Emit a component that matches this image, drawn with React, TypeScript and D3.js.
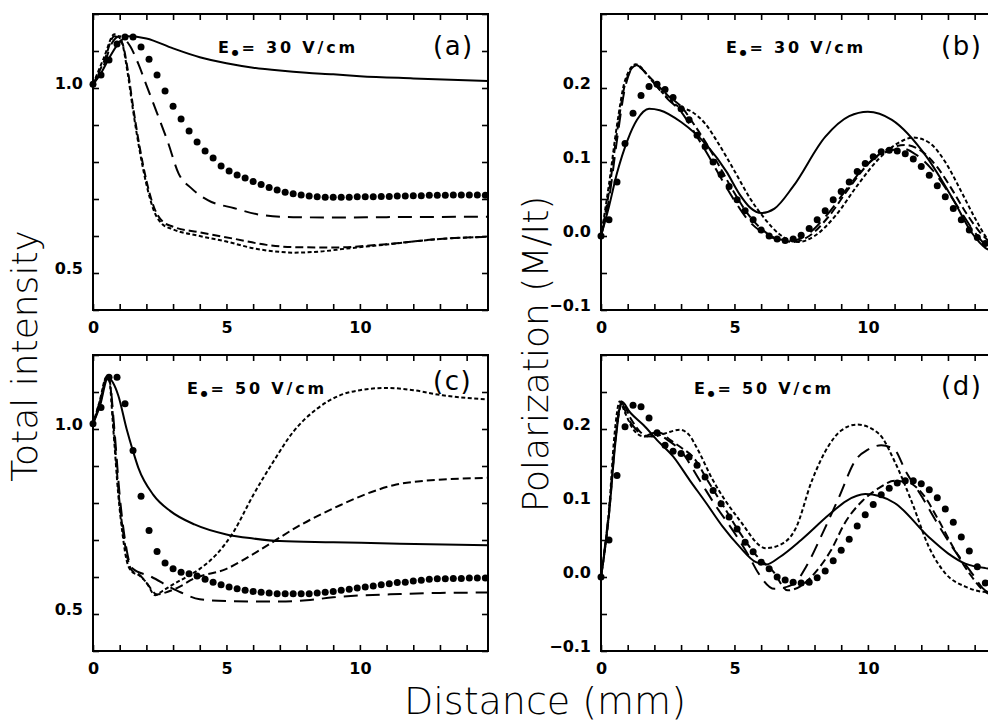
import React, { useEffect, useRef } from "react";
import * as d3 from "d3";

type Pt = [number, number];

// axis ticks
const distanceTicks = [0, 1, 2, 3, 4, 5, 6, 7, 8, 9, 10, 11, 12, 13, 14];
const distanceLabels = [0, 5, 10];
const intensityTicks = [0.4, 0.5, 0.6, 0.7, 0.8, 0.9, 1.0, 1.1, 1.2];
const intensityLabels = [0.5, 1.0];
const polarTicks = [-0.1, -0.05, 0, 0.05, 0.1, 0.15, 0.2, 0.25, 0.3];
const polarLabels = [-0.1, 0, 0.1, 0.2];

// measured points (filled circles), shared distances
const dotX = [
  0, 0.3, 0.6, 0.9, 1.2, 1.5, 1.8, 2.1, 2.4, 2.7, 3, 3.3, 3.6, 3.9, 4.2, 4.5, 4.8, 5.1, 5.4, 5.7,
  6, 6.3, 6.6, 6.9, 7.2, 7.5, 7.8, 8.1, 8.4, 8.7, 9, 9.3, 9.6, 9.9, 10.2, 10.5, 10.8, 11.1, 11.4,
  11.7, 12, 12.3, 12.6, 12.9, 13.2, 13.5, 13.8, 14.1, 14.4, 14.7,
];

// (a) total intensity, E0 = 30 V/cm
const aDots = [
  1.01, 1.035, 1.076, 1.119, 1.138, 1.138, 1.111, 1.078, 1.035, 0.992,
  0.951, 0.916, 0.884, 0.854, 0.83, 0.811, 0.789, 0.776, 0.765, 0.757,
  0.747, 0.739, 0.731, 0.724, 0.718, 0.714, 0.711, 0.708, 0.706, 0.705,
  0.705, 0.705, 0.705, 0.706, 0.706, 0.706, 0.707, 0.707, 0.708, 0.708,
  0.709, 0.709, 0.71, 0.71, 0.71, 0.711, 0.711, 0.711, 0.711, 0.71,
];
const aSolid: Pt[] = [
  [0, 1.01], [0.3, 1.04], [0.6, 1.08], [0.9, 1.115], [1.3, 1.14], [2.0, 1.134], [3.0, 1.107],
  [4.0, 1.083], [5.0, 1.067], [6.0, 1.055], [7.0, 1.047], [8.0, 1.041], [9.0, 1.037],
  [10.0, 1.032], [12.0, 1.026], [14.8, 1.019],
];
const aLong: Pt[] = [
  [0, 1.01], [0.4, 1.06], [0.7, 1.12], [1.0, 1.14], [1.4, 1.112], [1.7, 1.065], [2.0, 1.008],
  [2.4, 0.932], [2.8, 0.855], [3.2, 0.77], [3.7, 0.728], [4.3, 0.697], [5.3, 0.675],
  [6.3, 0.657], [7.5, 0.651], [9.0, 0.65], [11.0, 0.651], [14.8, 0.652],
];
const aMedium: Pt[] = [
  [0, 1.01], [0.4, 1.07], [0.8, 1.14], [1.1, 1.12], [1.3, 1.05], [1.5, 0.95], [1.75, 0.84],
  [2.0, 0.75], [2.3, 0.675], [2.6, 0.64], [3.0, 0.625], [4.0, 0.61], [5.25, 0.593],
  [6.5, 0.576], [7.5, 0.57], [9.0, 0.569], [11.0, 0.578], [13.0, 0.592], [14.8, 0.598],
];
const aShort: Pt[] = [
  [0, 1.01], [0.4, 1.08], [0.8, 1.145], [1.05, 1.13], [1.3, 1.04], [1.5, 0.94], [1.75, 0.83],
  [2.0, 0.74], [2.3, 0.665], [2.6, 0.632], [3.0, 0.618], [4.0, 0.6], [5.0, 0.585],
  [6.0, 0.567], [7.0, 0.557], [7.5, 0.555], [8.5, 0.558], [9.5, 0.566], [11.0, 0.577],
  [13.0, 0.592], [14.8, 0.598],
];

// (b) polarization, E0 = 30 V/cm
const bDots = [
  0, 0.022, 0.073, 0.125, 0.166, 0.19, 0.202, 0.205, 0.198, 0.187,
  0.172, 0.157, 0.136, 0.121, 0.1, 0.083, 0.067, 0.049, 0.034, 0.022,
  0.008, 0.0, -0.004, -0.006, -0.004, 0.001, 0.01, 0.022, 0.034, 0.049,
  0.06, 0.073, 0.087, 0.098, 0.107, 0.114, 0.116, 0.115, 0.111, 0.104,
  0.094, 0.082, 0.068, 0.053, 0.037, 0.022, 0.008, -0.002, -0.01, -0.016,
];
const bSolid: Pt[] = [
  [0, 0], [0.3, 0.04], [0.6, 0.085], [1.0, 0.13], [1.35, 0.157], [1.8, 0.172], [2.2, 0.17],
  [3.0, 0.154], [4.0, 0.121], [4.7, 0.087], [5.2, 0.056], [5.6, 0.038], [6.0, 0.031],
  [6.5, 0.037], [7.2, 0.067], [8.4, 0.134], [9.3, 0.162], [10.0, 0.168], [10.9, 0.157],
  [12.2, 0.107], [13.2, 0.049], [13.9, 0.004], [14.4, -0.016], [14.8, -0.022],
];
const bLong: Pt[] = [
  [0, 0], [0.3, 0.05], [0.6, 0.13], [0.9, 0.2], [1.3, 0.231], [1.9, 0.21], [2.5, 0.185],
  [3.0, 0.168], [3.5, 0.14], [4.0, 0.11], [4.5, 0.078], [5.0, 0.048], [5.5, 0.022],
  [6.0, 0.006], [6.6, -0.004], [7.2, -0.006], [7.8, 0.004], [8.5, 0.03], [9.3, 0.068],
  [10.0, 0.098], [10.8, 0.115], [11.3, 0.118], [11.8, 0.11], [12.4, 0.09], [13.0, 0.06],
  [13.5, 0.032], [14.0, 0.005], [14.5, -0.015], [14.8, -0.02],
];
const bMedium: Pt[] = [
  [0, 0], [0.3, 0.06], [0.6, 0.14], [0.9, 0.205], [1.3, 0.23], [1.9, 0.212], [2.5, 0.19],
  [3.0, 0.175], [3.5, 0.15], [4.0, 0.122], [4.5, 0.09], [5.0, 0.058], [5.5, 0.03],
  [6.0, 0.01], [6.6, -0.004], [7.2, -0.008], [7.8, 0.0], [8.5, 0.025], [9.3, 0.065],
  [10.0, 0.097], [10.8, 0.118], [11.4, 0.123], [12.0, 0.115], [12.6, 0.093], [13.2, 0.06],
  [13.7, 0.03], [14.2, 0.005], [14.8, -0.015],
];
const bShort: Pt[] = [
  [0, 0], [0.3, 0.07], [0.6, 0.15], [0.9, 0.21], [1.3, 0.232], [1.8, 0.215], [2.4, 0.19],
  [2.9, 0.175], [3.4, 0.168], [3.9, 0.152], [4.4, 0.125], [5.0, 0.088], [5.6, 0.05],
  [6.1, 0.025], [6.7, 0.002], [7.4, -0.008], [8.0, 0.0], [8.8, 0.028], [9.6, 0.068],
  [10.4, 0.104], [11.2, 0.127], [11.7, 0.133], [12.3, 0.126], [12.9, 0.1], [13.5, 0.06],
  [14.0, 0.025], [14.5, -0.005], [14.8, -0.015],
];

// (c) total intensity, E0 = 50 V/cm
const cDots = [
  1.014, 1.058, 1.14, 1.14, 1.068, 0.942, 0.818, 0.726, 0.669, 0.638,
  0.622, 0.613, 0.609, 0.603, 0.594, 0.586, 0.579, 0.573, 0.568, 0.564,
  0.561, 0.559, 0.557, 0.555, 0.555, 0.555, 0.555, 0.555, 0.557, 0.559,
  0.561, 0.564, 0.567, 0.57, 0.573, 0.576, 0.579, 0.582, 0.585, 0.586,
  0.589, 0.591, 0.594, 0.595, 0.595, 0.596, 0.596, 0.597, 0.597, 0.597,
];
const cSolid: Pt[] = [
  [0, 1.014], [0.25, 1.06], [0.57, 1.14], [0.75, 1.125], [0.95, 1.09], [1.26, 1.0],
  [1.5, 0.94], [1.7, 0.895], [2.26, 0.822], [2.9, 0.778], [3.8, 0.742], [5.0, 0.715],
  [6.0, 0.704], [7.0, 0.697], [9.0, 0.694], [11.5, 0.69], [14.8, 0.686],
];
const cLong: Pt[] = [
  [0, 1.014], [0.3, 1.08], [0.5, 1.14], [0.62, 1.13], [0.8, 1.0], [1.0, 0.82], [1.2, 0.7],
  [1.45, 0.625], [2.2, 0.6], [2.9, 0.572], [3.3, 0.558], [4.0, 0.54], [5.0, 0.535],
  [6.0, 0.534], [7.0, 0.534], [8.0, 0.537], [9.0, 0.545], [10.0, 0.55], [11.5, 0.554],
  [13.0, 0.557], [14.8, 0.558],
];
const cMedium: Pt[] = [
  [0, 1.014], [0.28, 1.08], [0.52, 1.14], [0.62, 1.13], [0.78, 1.0], [0.97, 0.82],
  [1.15, 0.71], [1.45, 0.618], [1.76, 0.605], [2.0, 0.585], [2.4, 0.553], [2.8, 0.56],
  [3.2, 0.572], [3.76, 0.595], [5.0, 0.622], [6.14, 0.668], [7.76, 0.74], [9.26, 0.794],
  [10.26, 0.825], [11.26, 0.848], [12.26, 0.859], [14.8, 0.868],
];
const cShort: Pt[] = [
  [0, 1.014], [0.25, 1.075], [0.5, 1.14], [0.6, 1.135], [0.76, 1.0], [0.95, 0.82],
  [1.1, 0.72], [1.26, 0.645], [1.45, 0.615], [1.76, 0.603], [2.0, 0.585], [2.33, 0.551],
  [2.6, 0.562], [3.0, 0.58], [3.5, 0.6], [4.0, 0.622], [4.6, 0.659], [5.25, 0.72],
  [6.0, 0.821], [6.75, 0.911], [7.5, 0.992], [8.4, 1.055], [9.25, 1.091], [10.0, 1.105],
  [11.0, 1.111], [12.0, 1.105], [13.1, 1.091], [14.8, 1.08],
];

// (d) polarization, E0 = 50 V/cm
const dDots = [
  0, 0.05, 0.137, 0.203, 0.232, 0.23, 0.215, 0.195, 0.178, 0.17,
  0.167, 0.162, 0.151, 0.135, 0.117, 0.099, 0.081, 0.065, 0.047, 0.034,
  0.02, 0.011, 0.0, -0.004, -0.007, -0.008, -0.007, -0.001, 0.008, 0.022,
  0.036, 0.051, 0.069, 0.084, 0.098, 0.111, 0.12, 0.127, 0.13, 0.13,
  0.126, 0.118, 0.107, 0.092, 0.074, 0.054, 0.035, 0.014, -0.008, -0.02,
];
const dSolid: Pt[] = [
  [0, 0], [0.3, 0.085], [0.55, 0.185], [0.77, 0.237], [1.1, 0.222], [1.6, 0.205],
  [2.1, 0.185], [2.7, 0.163], [3.32, 0.131], [3.94, 0.1], [4.56, 0.068], [5.19, 0.041],
  [5.81, 0.02], [6.2, 0.017], [6.7, 0.027], [7.5, 0.05], [8.54, 0.084], [9.2, 0.103],
  [9.9, 0.112], [11.0, 0.1], [12.28, 0.054], [13.0, 0.032], [13.65, 0.018], [14.4, 0.012],
  [14.8, 0.011],
];
const dLong: Pt[] = [
  [0, 0], [0.3, 0.09], [0.55, 0.19], [0.75, 0.237], [1.0, 0.215], [1.3, 0.2], [1.6, 0.19],
  [2.0, 0.195], [2.5, 0.185], [3.0, 0.17], [3.69, 0.131], [4.32, 0.095], [4.94, 0.063],
  [5.56, 0.027], [5.9, 0.005], [6.5, -0.016], [7.2, -0.01], [7.7, 0.015], [8.3, 0.059],
  [8.92, 0.108], [9.54, 0.158], [10.0, 0.172], [10.5, 0.178], [11.0, 0.172], [11.4, 0.144],
  [12.03, 0.108], [12.53, 0.077], [13.15, 0.041], [13.9, 0.005], [14.3, -0.015],
  [14.8, -0.025],
];
const dMedium: Pt[] = [
  [0, 0], [0.3, 0.085], [0.55, 0.19], [0.8, 0.235], [1.1, 0.215], [1.5, 0.195], [1.8, 0.19],
  [2.2, 0.195], [2.6, 0.185], [3.0, 0.175], [3.5, 0.16], [4.0, 0.13], [4.6, 0.095],
  [5.2, 0.06], [5.8, 0.03], [6.44, 0.008], [7.0, -0.018], [7.5, -0.012], [8.0, 0.005],
  [8.6, 0.035], [9.17, 0.075], [9.8, 0.103], [10.41, 0.12], [11.0, 0.13], [11.5, 0.128],
  [12.1, 0.11], [12.6, 0.08], [13.2, 0.04], [13.8, 0.005], [14.4, -0.02], [14.8, -0.025],
];
const dShort: Pt[] = [
  [0, 0], [0.3, 0.09], [0.5, 0.19], [0.7, 0.237], [0.9, 0.222], [1.2, 0.2], [1.6, 0.19],
  [2.0, 0.19], [2.4, 0.194], [2.95, 0.199], [3.3, 0.192], [3.57, 0.176], [4.19, 0.131],
  [5.19, 0.077], [6.18, 0.039], [6.68, 0.043], [7.3, 0.066], [7.9, 0.13], [8.54, 0.178],
  [9.0, 0.198], [9.6, 0.206], [10.4, 0.194], [11.03, 0.154], [11.66, 0.1], [12.28, 0.041],
  [12.9, 0.005], [13.65, -0.013], [14.4, -0.02], [14.8, -0.02],
];

const panelLetters = ["(a)", "(b)", "(c)", "(d)"];
const fieldValues = ["30", "30", "50", "50"];

/** Style variables. */
const W = 395;
const H = 296;
const dashLong = "14,8";
const dashMedium = "8,4";
const dashShort = "4,2.5";
const tickFont = "DejaVu Sans, Verdana, sans-serif";

export default function App() {
  const ref = useRef<SVGSVGElement | null>(null);

  useEffect(() => {
    const svg = d3.select(ref.current);
    svg.selectAll("*").remove();

    const panels = [
      { left: 93, top: 14, yDomain: [0.4, 1.2], yTicks: intensityTicks, yLabels: intensityLabels,
        dots: aDots, lines: [aSolid, aLong, aMedium, aShort], textX: 218, textY: 53, letterY: 46 },
      { left: 601, top: 14, yDomain: [-0.1, 0.3], yTicks: polarTicks, yLabels: polarLabels,
        dots: bDots, lines: [bSolid, bLong, bMedium, bShort], textX: 726, textY: 53, letterY: 46 },
      { left: 93, top: 355, yDomain: [0.4, 1.2], yTicks: intensityTicks, yLabels: intensityLabels,
        dots: cDots, lines: [cSolid, cLong, cMedium, cShort], textX: 187, textY: 394, letterY: 381 },
      { left: 601, top: 355, yDomain: [-0.1, 0.3], yTicks: polarTicks, yLabels: polarLabels,
        dots: dDots, lines: [dSolid, dLong, dMedium, dShort], textX: 694, textY: 394, letterY: 386 },
    ];
    const dashes = [null, dashLong, dashMedium, dashShort];

    panels.forEach((p, i) => {
      const g = svg.append("g").attr("transform", `translate(${p.left},${p.top})`);
      const x = d3.scaleLinear().domain([0, 14.8]).range([0, W]);
      const y = d3.scaleLinear().domain(p.yDomain).range([H, 0]);

      const line = d3
        .line<Pt>()
        .x((d) => x(d[0]))
        .y((d) => y(d[1]))
        .curve(d3.curveMonotoneX);

      // Draw the model curves
      p.lines.forEach((s, k) => {
        const path = g
          .append("path")
          .attr("d", line(s))
          .attr("fill", "none")
          .attr("stroke", "#000")
          .attr("stroke-width", 2);
        if (dashes[k]) path.attr("stroke-dasharray", dashes[k] as string);
      });

      // Measured points
      g.selectAll("circle.dot")
        .data(dotX.map((v, k) => [v, p.dots[k]] as Pt))
        .join("circle")
        .attr("class", "dot")
        .attr("cx", (d) => x(d[0]))
        .attr("cy", (d) => y(d[1]))
        .attr("r", 3.5)
        .attr("fill", "#000");

      const isLabel = (list: number[], v: number) => list.some((l) => Math.abs(l - v) < 1e-9);
      const fmtY = d3.format(".1f");

      const styleAxis = (sel: d3.Selection<SVGGElement, unknown, null, undefined>) => {
        sel.select(".domain").remove();
        sel.selectAll(".tick line").attr("stroke", "#000").attr("stroke-width", 1.6);
        sel
          .selectAll(".tick text")
          .attr("fill", "#000")
          .attr("font-family", tickFont)
          .attr("font-weight", "bold")
          .attr("font-size", 16);
      };

      // Bottom axis
      g.append("g")
        .attr("transform", `translate(0,${H})`)
        .call(
          d3
            .axisBottom(x)
            .tickValues(distanceTicks)
            .tickSize(-6)
            .tickPadding(12)
            .tickFormat((d) => (isLabel(distanceLabels, +d) ? String(d) : ""))
        )
        .call(styleAxis as any);

      // Top axis
      g.append("g")
        .call(d3.axisTop(x).tickValues(distanceTicks).tickSize(-6).tickFormat(() => ""))
        .call(styleAxis as any);

      // Left axis
      const left = g
        .append("g")
        .call(
          d3
            .axisLeft(y)
            .tickValues(p.yTicks)
            .tickSize(-6)
            .tickPadding(10)
            .tickFormat((d) => (isLabel(p.yLabels, +d) ? fmtY(+d) : ""))
        )
        .call(styleAxis as any);
      left.selectAll(".tick text").attr("dy", "0.05em");

      // Right axis
      g.append("g")
        .attr("transform", `translate(${W},0)`)
        .call(d3.axisRight(y).tickValues(p.yTicks).tickSize(-6).tickFormat(() => ""))
        .call(styleAxis as any);

      // Frame
      g.append("rect")
        .attr("width", W)
        .attr("height", H)
        .attr("fill", "none")
        .attr("stroke", "#000")
        .attr("stroke-width", 2);

      // Field annotation  E0 = .. V/cm
      const t = svg
        .append("text")
        .attr("x", p.textX)
        .attr("y", p.textY)
        .attr("font-family", tickFont)
        .attr("font-weight", "bold")
        .attr("font-size", 16)
        .attr("letter-spacing", 2.8)
        .style("white-space", "pre");
      t.append("tspan").text("E");
      t.append("tspan").attr("font-size", 8).attr("dy", 2).text("\u25CF");
      t.append("tspan").attr("dy", -2).text(`= ${fieldValues[i]} V/cm`);

      // Panel letter
      svg
        .append("text")
        .attr("x", p.left + 340)
        .attr("y", p.letterY)
        .attr("dominant-baseline", "central")
        .attr("font-family", tickFont)
        .attr("font-size", 26)
        .attr("letter-spacing", 1.5)
        .text(panelLetters[i]);
    });

    // Axis titles
    const title = (sel: d3.Selection<SVGTextElement, unknown, null, undefined>, size: number) =>
      sel
        .attr("font-family", "DejaVu Sans, sans-serif")
        .attr("font-weight", 200)
        .attr("font-size", size)
        .attr("text-anchor", "middle")
        .attr("fill", "#000");

    title(svg.append("text"), 38).attr("x", 545).attr("y", 714).text("Distance (mm)");
    title(svg.append("text"), 36)
      .attr("transform", "translate(37,356) rotate(-90)")
      .text("Total intensity");
    title(svg.append("text"), 36)
      .attr("transform", "translate(548,354) rotate(-90)")
      .text("Polarization (M/It)");
  }, []);

  return (
    <div style={{ position: "absolute", left: 0, top: 0 }}>
      <svg ref={ref} width={988} height={724} style={{ display: "block", background: "#fff" }} />
    </div>
  );
}
